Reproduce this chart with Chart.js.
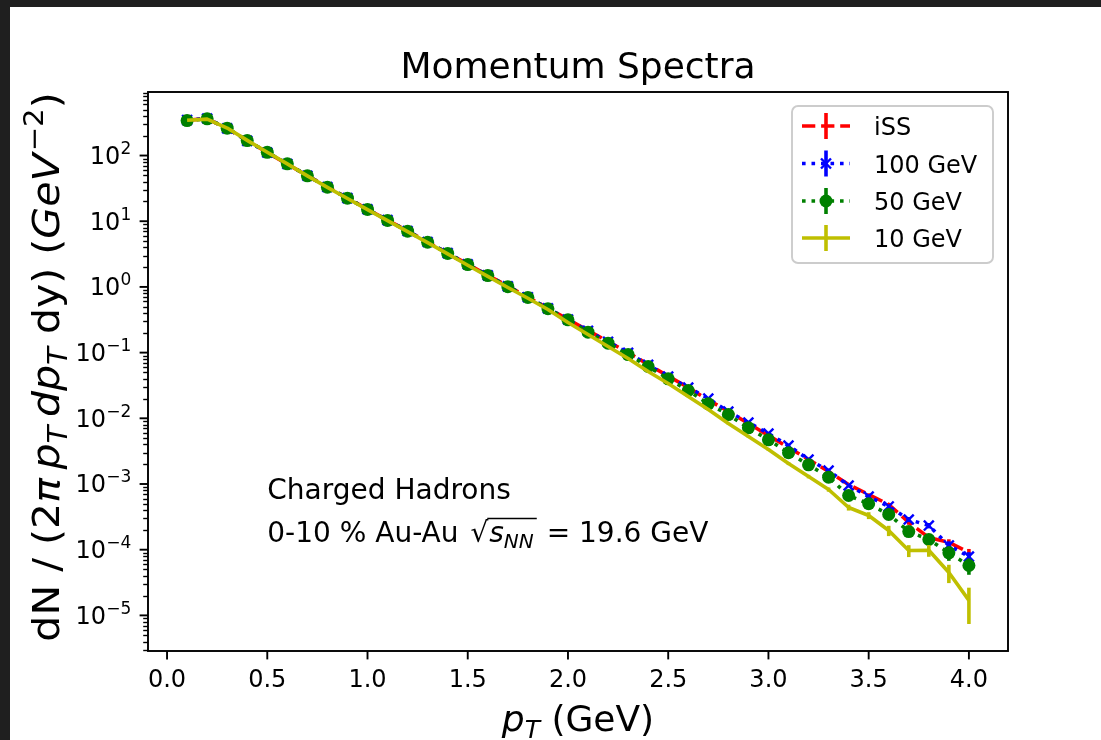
<!DOCTYPE html>
<html>
<head>
<meta charset="utf-8">
<script src="https://cdn.jsdelivr.net/npm/chart.js@4.4.1/dist/chart.umd.min.js"></script>
<style>
html,body{margin:0;padding:0;background:#fff;}
#wrap{position:relative;width:1101px;height:740px;}
</style>
</head>
<body>
<div id="wrap"><canvas id="spectraChart" width="1101" height="740"></canvas></div>
<script>
// pT bins (GeV)
const pT = [0.1,0.2,0.3,0.4,0.5,0.6,0.7,0.8,0.9,1.0,1.1,1.2,1.3,1.4,1.5,1.6,1.7,1.8,1.9,2.0,
            2.1,2.2,2.3,2.4,2.5,2.6,2.7,2.8,2.9,3.0,3.1,3.2,3.3,3.4,3.5,3.6,3.7,3.8,3.9,4.0];

const iss = [345,365,258,168,111,74.0,49.5,33.2,22.6,15.2,10.4,7.1,4.85,3.28,2.22,1.51,1.03,0.70,0.475,0.322,
             0.217,0.1476,0.1004,0.0659,0.0440,0.0294,0.0190,0.0127,0.00834,0.00547,0.00360,0.00236,0.00155,9.82e-4,6.92e-4,4.88e-4,2.6e-4,1.53e-4,1.29e-4,9.06e-5];
const gev100 = [348,366,259,167,111,74.5,49.3,33.1,22.5,15.2,10.4,7.08,4.83,3.27,2.21,1.50,1.02,0.698,0.472,0.320,
                0.214,0.146,0.0990,0.0652,0.0432,0.0294,0.0200,0.0127,0.00863,0.00587,0.00385,0.00236,0.00160,9.48e-4,6.45e-4,4.55e-4,2.88e-4,2.33e-4,1.16e-4,7.87e-5];
const gev50 = [341,362,261,169,112,74.8,49.1,33.0,22.4,15.1,10.3,7.05,4.79,3.24,2.19,1.49,1.01,0.690,0.465,0.316,
               0.205,0.139,0.0935,0.0614,0.0399,0.0265,0.0166,0.0114,0.00716,0.00471,0.00299,0.00196,0.00127,6.68e-4,5.0e-4,3.44e-4,1.89e-4,1.43e-4,8.97e-5,5.75e-5];
const gev10 = [345,358,262,170,112,74.5,49.0,32.8,22.2,15.0,10.2,6.95,4.72,3.18,2.14,1.45,0.98,0.672,0.453,0.287,
               0.189,0.124,0.0813,0.0516,0.0339,0.0215,0.0136,0.00834,0.00528,0.00335,0.00205,0.00130,8.24e-4,4.39e-4,3.32e-4,1.96e-4,9.72e-5,9.8e-5,4.50e-5,1.69e-5];

// error bars (only visible in the tail)
const errIss = [0,0,0,0,0,0,0,0,0,0,0,0,0,0,0,0,0,0,0,0,0,0,0,0,0,
                4e-4,3e-4,2.2e-4,1.6e-4,1.2e-4,9e-5,6.5e-5,5e-5,3.8e-5,3e-5,2.5e-5,2e-5,1.7e-5,1.5e-5,1.2e-5];
const errGev100 = [0,0,0,0,0,0,0,0,0,0,0,0,0,0,0,0,0,0,0,0,0,0,0,0,0,
                   5e-4,3.5e-4,2.5e-4,1.8e-4,1.3e-4,1e-4,7e-5,5.5e-5,4e-5,3.5e-5,3e-5,2.5e-5,2.2e-5,1.8e-5,1.3e-5];
const errGev50 = [0,0,0,0,0,0,0,0,0,0,0,0,0,0,0,0,0,0,0,0,0,0,0,0,0,
                  5e-4,3.5e-4,2.5e-4,1.8e-4,1.3e-4,1e-4,7e-5,5.5e-5,4.5e-5,4e-5,3.5e-5,3e-5,2.8e-5,2.2e-5,1.6e-5];
const errGev10 = [0,0,0,0,0,0,0,0,0,0,0,0,0,0,0,0,0,0,0,0,0,0,0,0,0,
                  6e-4,4e-4,2.8e-4,2e-4,1.5e-4,1.1e-4,8e-5,6e-5,4.5e-5,4e-5,3.5e-5,2e-5,2e-5,1.4e-5,0.95e-5];

const seriesLabels = ['iSS','100 GeV','50 GeV','10 GeV'];
const xTicks = [0.0,0.5,1.0,1.5,2.0,2.5,3.0,3.5,4.0];
const yTickExps = [-5,-4,-3,-2,-1,0,1,2];

(()=>{
    const FONT = "'DejaVu Sans'";
    const LW = 3.6;

    function runsWidth(c, runs) {
        let w = 0;
        runs.forEach(r => {
            c.font = (r.it ? 'italic ' : '') + r.size + 'px ' + FONT;
            w += c.measureText(r.t).width + (r.gap || 0);
        });
        return w;
    }
    function drawRuns(c, runs, x, y) {
        let cx = x;
        runs.forEach(r => {
            c.font = (r.it ? 'italic ' : '') + r.size + 'px ' + FONT;
            c.fillText(r.t, cx, y + (r.dy || 0));
            cx += c.measureText(r.t).width + (r.gap || 0);
        });
        return cx;
    }
    function sup(exp) {
        return exp < 0 ? '\u2212' + Math.abs(exp) : String(exp);
    }

    const matplotlibLook = {
        id: 'matplotlibLook',
        beforeDraw(chart) {
            const c = chart.ctx;
            c.save();
            c.fillStyle = '#ffffff';
            c.fillRect(0, 0, chart.width, chart.height);
            c.fillStyle = '#1f1f1f';
            c.fillRect(0, 0, chart.width, 7);
            c.fillRect(0, 0, 10, chart.height);
            c.restore();
        },
        beforeDatasetDraw(chart, args) {
            const ds = chart.data.datasets[args.index];
            if (!ds.errors) return;
            const c = chart.ctx, xs = chart.scales.x, ys = chart.scales.y, a = chart.chartArea;
            c.save();
            c.beginPath();
            c.rect(a.left, a.top, a.right - a.left, a.bottom - a.top);
            c.clip();
            c.strokeStyle = ds.borderColor;
            c.lineWidth = LW;
            c.setLineDash([]);
            ds.data.forEach((p, i) => {
                const e = ds.errors[i];
                if (!e) return;
                const px = xs.getPixelForValue(p.x);
                const lo = Math.max(p.y - e, ys.min);
                c.beginPath();
                c.moveTo(px, ys.getPixelForValue(p.y + e));
                c.lineTo(px, ys.getPixelForValue(lo));
                c.stroke();
            });
            c.restore();
        },
        afterDraw(chart) {
            const c = chart.ctx, xs = chart.scales.x, ys = chart.scales.y, a = chart.chartArea;
            c.save();
            c.fillStyle = '#000';
            c.strokeStyle = '#000';

            // spines
            c.lineWidth = 1.9;
            c.strokeRect(a.left, a.top, a.right - a.left, a.bottom - a.top);

            // y minor ticks
            c.lineWidth = 1.4;
            for (let e = -7; e <= 3; e++) {
                for (let k = 2; k <= 9; k++) {
                    const v = k * Math.pow(10, e);
                    if (v < ys.min || v > ys.max) continue;
                    const py = Math.round(ys.getPixelForValue(v)) + 0.5;
                    c.beginPath(); c.moveTo(a.left, py); c.lineTo(a.left - 4.8, py); c.stroke();
                }
            }
            // y major ticks + labels
            c.lineWidth = 1.9;
            c.textAlign = 'left';
            c.textBaseline = 'alphabetic';
            yTickExps.forEach(exp => {
                const py = ys.getPixelForValue(Math.pow(10, exp));
                c.beginPath(); c.moveTo(a.left, py); c.lineTo(a.left - 8.4, py); c.stroke();
                const runs = [{t: '10', size: 24}, {t: sup(exp), size: 17, dy: -10}];
                const w = runsWidth(c, runs);
                drawRuns(c, runs, a.left - 16.8 - w, py + 8.5);
            });
            // x ticks + labels
            c.textAlign = 'center';
            c.font = '24px ' + FONT;
            xTicks.forEach(t => {
                const px = xs.getPixelForValue(t);
                c.beginPath(); c.moveTo(px, a.bottom); c.lineTo(px, a.bottom + 8.4); c.stroke();
                c.fillText(t.toFixed(1), px, a.bottom + 16.8 + 19.5);
            });

            // title
            c.font = '36px ' + FONT;
            c.fillText('Momentum Spectra', (a.left + a.right) / 2, a.top - 14);

            // x label
            c.textAlign = 'left';
            const xl = [{t: 'p', size: 36, it: true}, {t: 'T', size: 25, it: true, dy: 7}, {t: ' (GeV)', size: 36}];
            drawRuns(c, xl, (a.left + a.right) / 2 - runsWidth(c, xl) / 2, 731);

            // y label (rotated)
            const yl = [
                {t: 'dN / (2', size: 38}, {t: '\u03c0', size: 38, it: true, gap: 8},
                {t: 'p', size: 38, it: true}, {t: 'T', size: 27, it: true, dy: 8, gap: 8},
                {t: 'dp', size: 38, it: true}, {t: 'T', size: 27, it: true, dy: 8},
                {t: ' dy) (', size: 38}, {t: 'GeV', size: 38, it: true, gap: 2},
                {t: '\u22122', size: 27, dy: -16}, {t: ')', size: 38}
            ];
            c.save();
            c.translate(59, 367);
            c.rotate(-Math.PI / 2);
            c.scale(1.08, 1);
            drawRuns(c, yl, -runsWidth(c, yl) / 2, 0);
            c.restore();

            // annotation in data coordinates
            const ax = xs.getPixelForValue(0.5);
            c.font = '28px ' + FONT;
            c.fillText('Charged Hadrons', ax, ys.getPixelForValue(6.0e-4));
            const by = ys.getPixelForValue(1.33e-4);
            let cx = drawRuns(c, [{t: '0-10 % Au-Au ', size: 28, gap: 3}, {t: '\u221a', size: 28}], ax, by);
            const ox = cx;
            cx = drawRuns(c, [{t: 's', size: 28, it: true}, {t: 'NN', size: 20, it: true, dy: 6}], cx + 1, by);
            c.lineWidth = 1.6;
            c.beginPath(); c.moveTo(ox - 1, by - 23); c.lineTo(cx + 3, by - 23); c.stroke();
            drawRuns(c, [{t: ' = 19.6 GeV', size: 28}], cx + 4, by);

            // legend
            c.beginPath();
            c.roundRect(792, 106, 201, 157, 6);
            c.fillStyle = 'rgba(255,255,255,0.8)';
            c.fill();
            c.strokeStyle = '#cccccc';
            c.lineWidth = 1.9;
            c.stroke();
            const rows = [126, 163.5, 201, 238];
            chart.data.datasets.forEach((ds, i) => {
                const cy = rows[i];
                c.strokeStyle = ds.borderColor;
                c.lineWidth = LW;
                c.setLineDash(ds.borderDash || []);
                c.beginPath(); c.moveTo(802, cy); c.lineTo(850, cy); c.stroke();
                c.setLineDash([]);
                c.beginPath(); c.moveTo(826, cy - 13); c.lineTo(826, cy + 13); c.stroke();
                if (ds.pointStyle === 'crossRot') {
                    c.lineWidth = 2.4;
                    c.beginPath();
                    c.moveTo(821, cy - 5); c.lineTo(831, cy + 5);
                    c.moveTo(821, cy + 5); c.lineTo(831, cy - 5);
                    c.stroke();
                } else if (ds.pointStyle === 'circle' && ds.pointRadius > 0) {
                    c.fillStyle = ds.borderColor;
                    c.beginPath(); c.arc(826, cy, ds.pointRadius, 0, Math.PI * 2); c.fill();
                }
                c.fillStyle = '#000';
                c.font = '24px ' + FONT;
                c.fillText(ds.label, 874, cy + 9);
            });
            c.restore();
        }
    };

    const toPts = arr => pT.map((x, i) => ({x: x, y: arr[i]}));

    const ctx = document.querySelector('#spectraChart');
    new Chart(ctx, {
        type: 'line',
        data: {
            datasets: [
                {
                    label: seriesLabels[0], data: toPts(iss), errors: errIss,
                    borderColor: '#ff0000', borderWidth: LW, borderDash: [13.3, 5.8],
                    pointRadius: 0, order: 4
                },
                {
                    label: seriesLabels[1], data: toPts(gev100), errors: errGev100,
                    borderColor: '#0000ff', borderWidth: LW, borderDash: [3.6, 5.9],
                    pointStyle: 'crossRot', pointRadius: 7, pointBorderWidth: 2.4,
                    pointBorderColor: '#0000ff', pointBackgroundColor: '#0000ff', order: 3
                },
                {
                    label: seriesLabels[2], data: toPts(gev50), errors: errGev50,
                    borderColor: '#008000', borderWidth: LW, borderDash: [3.6, 5.9],
                    pointStyle: 'circle', pointRadius: 6.5, pointBorderWidth: 0,
                    pointBorderColor: '#008000', pointBackgroundColor: '#008000', order: 2
                },
                {
                    label: seriesLabels[3], data: toPts(gev10), errors: errGev10,
                    borderColor: '#bfbf00', borderWidth: LW,
                    pointRadius: 0, order: 1
                }
            ]
        },
        options: {
            responsive: false,
            animation: false,
            events: [],
            elements: {
                line: { tension: 0, borderCapStyle: 'butt', borderJoinStyle: 'round', fill: false }
            },
            layout: { padding: { left: 148, top: 92, right: 93, bottom: 89 } },
            scales: {
                x: { type: 'linear', min: -0.095, max: 4.195, display: false },
                y: { type: 'logarithmic', min: 2.87e-6, max: 927, display: false }
            },
            plugins: {
                legend: { display: false },
                tooltip: { enabled: false },
                title: { display: false }
            }
        },
        plugins: [matplotlibLook]
    });
})();
</script>
</body>
</html>
